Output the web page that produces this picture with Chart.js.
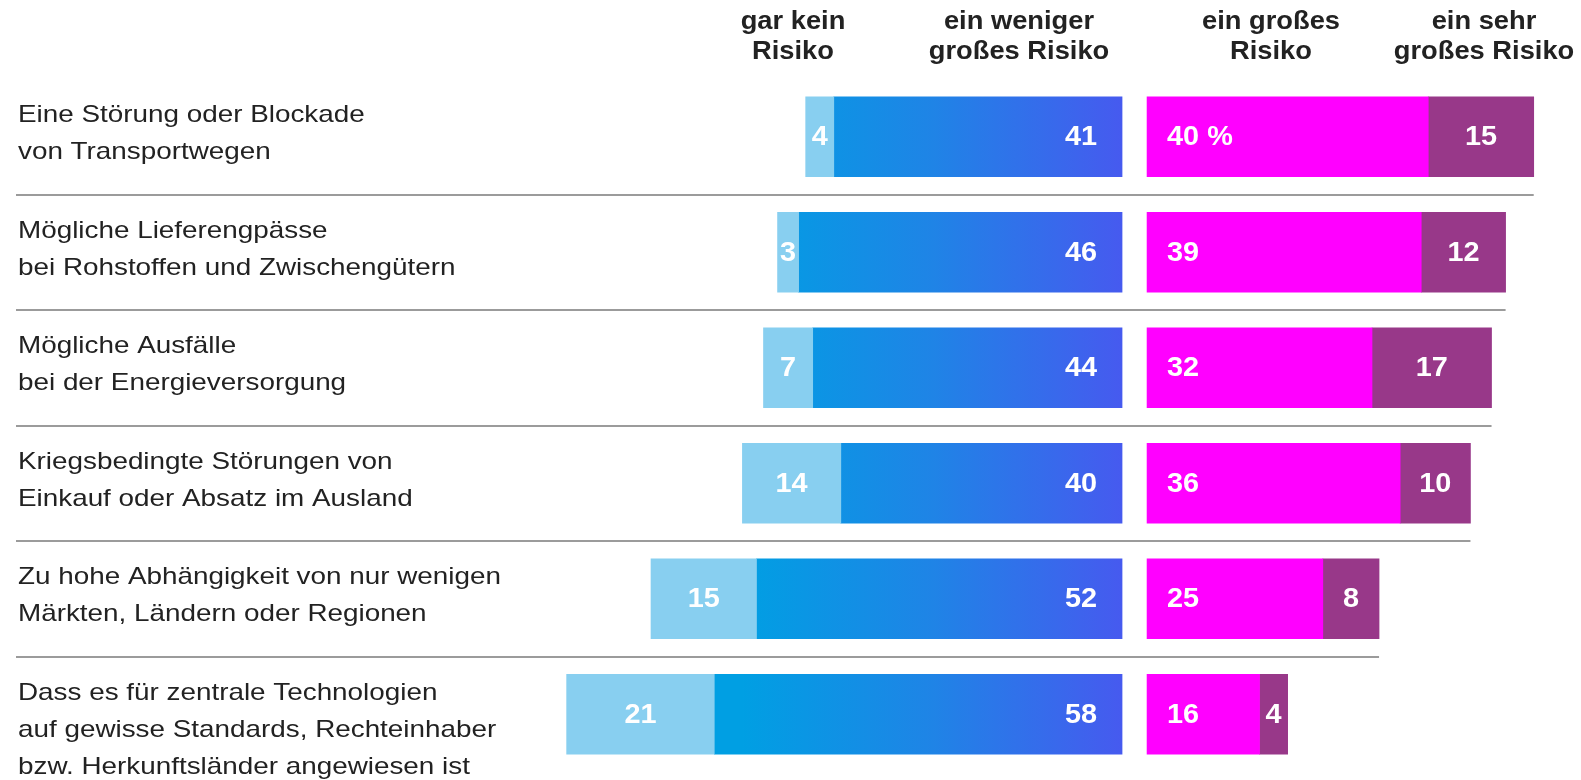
<!DOCTYPE html>
<html>
<head>
<meta charset="utf-8">
<script src="https://cdn.jsdelivr.net/npm/chart.js@4.4.1/dist/chart.umd.min.js"></script>
<style>
  html, body { margin: 0; padding: 0; background: #ffffff; }
  #wrap { position: relative; width: 1581px; height: 780px; }
</style>
</head>
<body>
<div id="wrap"><canvas id="c" width="1581" height="780"></canvas></div>
<script>
const categories = [
  ["Eine Störung oder Blockade", "von Transportwegen"],
  ["Mögliche Lieferengpässe", "bei Rohstoffen und Zwischengütern"],
  ["Mögliche Ausfälle", "bei der Energieversorgung"],
  ["Kriegsbedingte Störungen von", "Einkauf oder Absatz im Ausland"],
  ["Zu hohe Abhängigkeit von nur wenigen", "Märkten, Ländern oder Regionen"],
  ["Dass es für zentrale Technologien", "auf gewisse Standards, Rechteinhaber", "bzw. Herkunftsländer angewiesen ist"]
];
const seriesNames = [
  ["gar kein", "Risiko"],
  ["ein weniger", "großes Risiko"],
  ["ein großes", "Risiko"],
  ["ein sehr", "großes Risiko"]
];
const garKein   = [4, 3, 7, 14, 15, 21];
const weniger   = [41, 46, 44, 40, 52, 58];
const gross     = [40, 39, 32, 36, 25, 16];
const sehrGross = [15, 12, 17, 10, 8, 4];

// layout constants (not data)
const GAP = 3.556;           // gap between left and right half, in scale units
const HEADER_X = [793, 1019, 1271, 1484];

const cLight = '#88cff0';
const cMagenta = '#ff00ff';
const cPurple = '#983889';

const dGar = garKein.map((v, i) => [-(weniger[i] + v), -weniger[i]]);
const dWen = weniger.map(v => [-v, 0]);
const dGro = gross.map(v => [GAP, GAP + v]);
const dSehr = sehrGross.map((v, i) => [GAP + gross[i], GAP + gross[i] + v]);

function blueGradient(context) {
  const chart = context.chart;
  const x = chart.scales && chart.scales.x;
  if (!x) return '#1e85e6';
  const a = x.getPixelForValue(-54), b = x.getPixelForValue(0);
  if (!isFinite(a) || !isFinite(b) || a === b) return '#1e85e6';
  const g = chart.ctx.createLinearGradient(a, 0, b, 0);
  g.addColorStop(0, '#009fe3');
  g.addColorStop(0.5, '#1f84e6');
  g.addColorStop(1, '#465aef');
  return g;
}

function txt(ctx, s, x, y, align, sx) {
  ctx.save();
  ctx.translate(x, y);
  ctx.scale(sx, 1);
  ctx.textAlign = align;
  ctx.fillText(s, 0, 0);
  ctx.restore();
}

const overlay = {
  id: 'overlay',
  afterDatasetsDraw(chart) {
    const ctx = chart.ctx;
    const x = chart.scales.x;
    const y = chart.scales.y;
    const band = y.getPixelForValue(1) - y.getPixelForValue(0);
    ctx.save();
    // separators
    ctx.strokeStyle = '#9b9b9b';
    ctx.lineWidth = 2;
    for (let i = 0; i < categories.length - 1; i++) {
      const yy = Math.round(y.getPixelForValue(i) + band / 2);
      ctx.beginPath();
      ctx.moveTo(16, yy);
      ctx.lineTo(x.getPixelForValue(GAP + gross[i] + sehrGross[i]), yy);
      ctx.stroke();
    }
    // category labels
    ctx.fillStyle = '#222222';
    ctx.textBaseline = 'middle';
    ctx.font = '24px "Liberation Sans", Arial, sans-serif';
    categories.forEach((lines, i) => {
      const cy = y.getPixelForValue(i);
      lines.forEach((l, k) => txt(ctx, l, 18, cy - 21 + k * 37, 'left', 1.16));
    });
    // headers
    ctx.font = 'bold 26px "Liberation Sans", Arial, sans-serif';
    seriesNames.forEach((lines, j) => {
      lines.forEach((l, k) => txt(ctx, l, HEADER_X[j], 22 + k * 30, 'center', 1.05));
    });
    // values
    ctx.fillStyle = '#ffffff';
    ctx.font = 'bold 28px "Liberation Sans", Arial, sans-serif';
    categories.forEach((_, i) => {
      const cy = y.getPixelForValue(i) + 1;
      const g0 = x.getPixelForValue(dGar[i][0]), g1 = x.getPixelForValue(dGar[i][1]);
      txt(ctx, String(garKein[i]), (g0 + g1) / 2, cy, 'center', 1.03);
      txt(ctx, String(weniger[i]), x.getPixelForValue(0) - 25, cy, 'right', 1.03);
      txt(ctx, i === 0 ? gross[i] + ' %' : String(gross[i]), x.getPixelForValue(GAP) + 20, cy, 'left', 1.03);
      const s0 = x.getPixelForValue(dSehr[i][0]), s1 = x.getPixelForValue(dSehr[i][1]);
      txt(ctx, String(sehrGross[i]), (s0 + s1) / 2, cy, 'center', 1.03);
    });
    ctx.restore();
  }
};

new Chart(document.getElementById('c'), {
  type: 'bar',
  data: {
    labels: categories,
    datasets: [
      { label: seriesNames[0].join(' '), data: dGar, backgroundColor: cLight },
      { label: seriesNames[1].join(' '), data: dWen, backgroundColor: blueGradient },
      { label: seriesNames[2].join(' '), data: dGro, backgroundColor: cMagenta },
      { label: seriesNames[3].join(' '), data: dSehr, backgroundColor: cPurple }
    ]
  },
  options: {
    indexAxis: 'y',
    responsive: false,
    animation: false,
    devicePixelRatio: 1,
    layout: { padding: { left: 419, right: 9, top: 79, bottom: 8 } },
    datasets: { bar: { grouped: false, barThickness: 80, borderWidth: 0 } },
    scales: {
      x: { type: 'linear', min: -100, max: 64, display: false },
      y: { type: 'category', display: false, offset: true }
    },
    plugins: { legend: { display: false }, tooltip: { enabled: false } }
  },
  plugins: [overlay]
});
</script>
</body>
</html>
